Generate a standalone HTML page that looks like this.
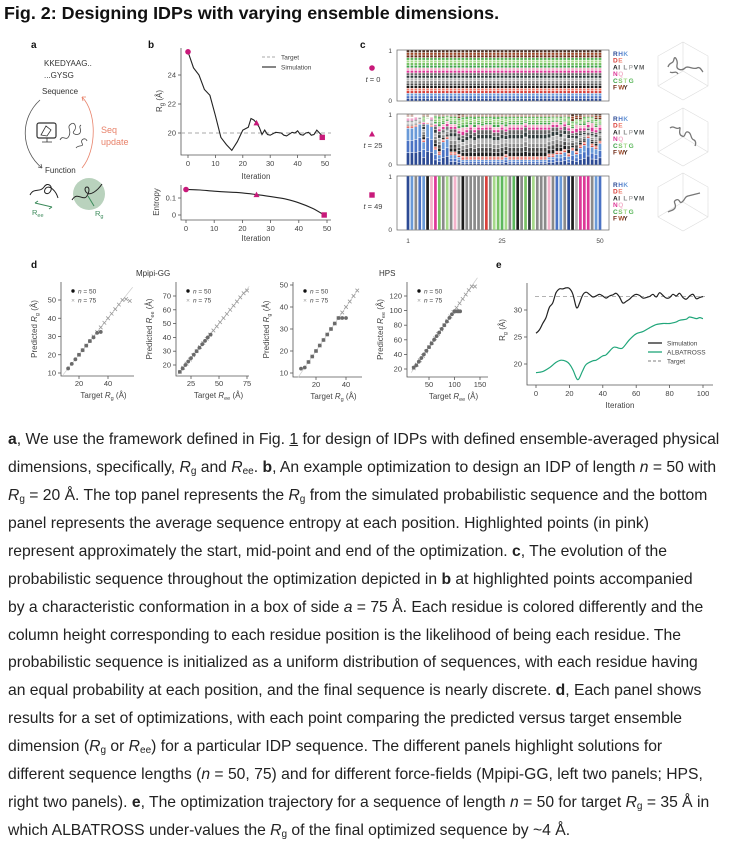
<!DOCTYPE html>
<html><head><meta charset="utf-8"><style>
body{margin:0;background:#fff;width:736px;height:849px;overflow:hidden;position:relative;font-family:"Liberation Sans",sans-serif;}
#title{position:absolute;left:4px;top:3px;font-weight:bold;font-size:17.9px;color:#111;white-space:nowrap;}
#fig{position:absolute;left:0;top:0;}
.cap{position:absolute;left:8px;font-size:15.7px;color:#222;white-space:nowrap;line-height:18px;}
.cap i{font-style:italic}
sub{font-size:10px;vertical-align:-2px;line-height:0}
svg text{font-family:"Liberation Sans",sans-serif;}
</style></head><body>
<div id="title">Fig. 2: Designing IDPs with varying ensemble dimensions.</div>
<svg id="fig" width="736" height="420">
<g id="pa" fill="#333" font-size="8">
<text x="31" y="48" font-weight="bold" font-size="10" fill="#111">a</text>
<text x="44" y="66" fill="#333">KKEDYAAG..</text>
<text x="44" y="78" fill="#333">...GYSG</text>
<text x="42" y="94" fill="#333">Sequence</text>
<text x="45" y="173" fill="#333">Function</text>
<path d="M40,100 C20,118 20,150 42,168" stroke="#555" fill="none" stroke-width="0.8"/>
<path d="M42,168 l-4,-1 M42,168 l-1,-4" stroke="#555" stroke-width="0.8"/>
<path d="M82,168 C97,150 97,112 82,97" stroke="#e8826a" fill="none" stroke-width="0.8"/>
<path d="M82,97 l4,0 M82,97 l1,4" stroke="#e8826a" stroke-width="0.8"/>
<text x="101" y="133" fill="#e8826a" font-size="9">Seq</text>
<text x="101" y="145" fill="#e8826a" font-size="9">update</text>
<rect x="37" y="123" width="19" height="15" rx="2" fill="none" stroke="#333" stroke-width="1.2"/>
<path d="M42,142 h10 M47,138 v4 M41,135 l5,-9 l5,4 l-4,6z" stroke="#333" fill="none" stroke-width="0.8"/>
<path d="M60,140 c3,-6 6,2 9,-4 c3,-6 -3,-9 2,-12 c4,-3 6,4 3,7 c-3,3 4,5 6,2 c2,-4 -2,-6 1,-8 M76,148 c3,-4 8,0 6,-5 c-2,-4 4,-6 5,-2" stroke="#444" fill="none" stroke-width="0.8"/>
<path d="M30,195 c4,-8 10,-2 14,-8 c4,-6 10,0 6,5 c-3,4 -8,0 -4,-4 c4,-3 10,3 12,10" stroke="#222" fill="none" stroke-width="1"/>
<path d="M35,203 l17,4 M35,203 l3,-2 M52,207 l-3,2" stroke="#3b8a5a" stroke-width="1" fill="none"/>
<text x="32" y="215" fill="#3b8a5a" font-size="7.5">R<tspan font-size="5.5" dy="2">ee</tspan></text>
<circle cx="89" cy="194" r="16" fill="#b9d2bd"/>
<path d="M72,200 c6,-10 12,4 16,-6 c4,-10 -6,-8 -2,-2 c4,5 12,-2 16,-8" stroke="#222" fill="none" stroke-width="1"/>
<path d="M88,196 l6,10" stroke="#3b8a5a" stroke-width="1"/>
<text x="95" y="216" fill="#3b8a5a" font-size="7.5">R<tspan font-size="5.5" dy="2">g</tspan></text>
</g>
<g id="pb" font-size="7.5" fill="#444">
<text x="148" y="48" font-weight="bold" font-size="10" fill="#111">b</text>
</g>
<g id="pc" font-size="7.5" fill="#444">
<text x="360" y="48" font-weight="bold" font-size="10" fill="#111">c</text>
</g>
<g id="pd" font-size="7.5" fill="#444">
<text x="31" y="268" font-weight="bold" font-size="10" fill="#111">d</text>
<text x="136" y="276" font-size="8" fill="#333">Mpipi-GG</text>
<text x="379" y="276" font-size="8" fill="#333">HPS</text>
</g>
<g id="pe" font-size="7.5" fill="#444">
<text x="496" y="268" font-weight="bold" font-size="10" fill="#111">e</text>
</g>
</svg>
<div class="cap" style="top:431px"><b>a</b>, We use the framework defined in Fig. <span style="text-decoration:underline">1</span> for design of IDPs with defined ensemble-averaged physical</div>
<div class="cap" style="top:459px">dimensions, specifically, <i>R</i><sub>g</sub> and <i>R</i><sub>ee</sub>. <b>b</b>, An example optimization to design an IDP of length <i>n</i> = 50 with</div>
<div class="cap" style="top:487px"><i>R</i><sub>g</sub> = 20 Å. The top panel represents the <i>R</i><sub>g</sub> from the simulated probabilistic sequence and the bottom</div>
<div class="cap" style="top:515px">panel represents the average sequence entropy at each position. Highlighted points (in pink)</div>
<div class="cap" style="top:543px">represent approximately the start, mid-point and end of the optimization. <b>c</b>, The evolution of the</div>
<div class="cap" style="top:571px">probabilistic sequence throughout the optimization depicted in <b>b</b> at highlighted points accompanied</div>
<div class="cap" style="top:599px">by a characteristic conformation in a box of side <i>a</i> = 75 Å. Each residue is colored differently and the</div>
<div class="cap" style="top:627px">column height corresponding to each residue position is the likelihood of being each residue. The</div>
<div class="cap" style="top:654px">probabilistic sequence is initialized as a uniform distribution of sequences, with each residue having</div>
<div class="cap" style="top:682px">an equal probability at each position, and the final sequence is nearly discrete. <b>d</b>, Each panel shows</div>
<div class="cap" style="top:710px">results for a set of optimizations, with each point comparing the predicted versus target ensemble</div>
<div class="cap" style="top:738px">dimension (<i>R</i><sub>g</sub> or <i>R</i><sub>ee</sub>) for a particular IDP sequence. The different panels highlight solutions for</div>
<div class="cap" style="top:766px">different sequence lengths (<i>n</i> = 50, 75) and for different force-fields (Mpipi-GG, left two panels; HPS,</div>
<div class="cap" style="top:794px">right two panels). <b>e</b>, The optimization trajectory for a sequence of length <i>n</i> = 50 for target <i>R</i><sub>g</sub> = 35 Å in</div>
<div class="cap" style="top:822px">which ALBATROSS under-values the <i>R</i><sub>g</sub> of the final optimized sequence by ~4 Å.</div>
<script>
// ---- panel b data ----
const bIter=[0,2,4,6,8,10,12,14,16,18,20,22,23,24,25,26,27,28,29,30,32,34,35,36,38,39,40,41,42,43,44,45,46,47,48,49];
const bRg=[25.6,24.5,24.0,23.0,22.6,21.2,19.7,19.2,18.8,19.4,20.2,20.4,21.0,20.9,20.7,20.4,19.9,20.2,19.9,19.85,20.05,20.0,19.85,19.8,20.05,20.0,20.15,19.9,19.85,20.0,20.05,19.85,19.9,20.2,20.0,19.8];
const bTarget=20;
const bXTicks=[0,10,20,30,40,50];
const bYTicks=[20,22,24];
const entIter=[0,5,10,15,20,25,30,35,40,45,49];
const entVal=[0.15,0.147,0.14,0.135,0.13,0.12,0.108,0.095,0.072,0.038,0.0];
const entYTicks=[0,0.1];
const hlIter=[0,25,49];
const hlRg=[25.6,20.7,19.7];
const hlEnt=[0.15,0.12,0.0];
// ---- panel c data ----
const residues=["R","H","K","D","E","A","I","L","P","V","M","N","Q","C","S","T","G","F","W","Y"];
const resColor=["#2c4a94","#4a72c4","#6a9ad8","#d9413c","#ee7d6c","#1c1c1c","#4d4d4d","#8a8a8a","#b0b0b0","#2f3b3b","#666","#dd3797","#f4b3cb","#3fa24a","#79c265","#a6d98a","#5cb85c","#6e2a17","#9e4a2a","#4c2f22"];
const groupIdx=[[0,1,2],[3,4],[5,6,7,8,9,10],[11,12],[13,14,15,16],[17,18,19]];
const t25Blue=[.72,.72,.75,.8,.45,.8,.75,.3,.2,.45,.5,.2,.2,.15,.1,.1,.1,.1,.1,.1,.1,.1,.1,.1,.1,.15,.1,.1,.1,.1,.1,.1,.1,.1,.1,.1,.15,.15,.2,.2,.25,.15,.3,.2,.3,.35,.5,.3,.3,.4];
const t25Red=[.05,.05,.04,.03,.05,.03,.04,.06,.07,.05,.05,.06,.06,.06,.07,.06,.06,.06,.06,.06,.06,.06,.06,.06,.06,.06,.06,.06,.06,.06,.06,.06,.06,.06,.06,.06,.06,.06,.06,.06,.06,.06,.06,.06,.06,.06,.05,.06,.06,.05];
const t25Grey=[.1,.1,.1,.1,.3,.05,.1,.4,.4,.2,.2,.45,.45,.4,.4,.45,.5,.45,.5,.5,.5,.5,.45,.45,.5,.45,.5,.5,.5,.5,.55,.5,.5,.5,.5,.5,.45,.5,.45,.4,.45,.4,.3,.35,.25,.2,.15,.2,.25,.2];
const t25Pink=[.05,.05,.05,.02,.05,.02,.05,.05,.1,.1,.1,.1,.1,.1,.15,.1,.1,.1,.1,.08,.1,.1,.1,.1,.1,.1,.1,.1,.1,.1,.08,.1,.1,.1,.1,.1,.1,.1,.1,.1,.1,.1,.1,.15,.1,.1,.1,.15,.1,.1];
const t25Green=[.03,.03,.03,.03,.1,.05,.03,.15,.2,.15,.1,.15,.15,.2,.2,.2,.15,.2,.15,.17,.15,.15,.2,.2,.15,.2,.15,.15,.15,.15,.12,.15,.15,.15,.15,.15,.15,.1,.1,.15,.1,.15,.15,.1,.1,.15,.1,.1,.15,.1];
const t25Brown=[.05,.05,.03,.02,.05,.05,.03,.04,.05,.05,.04,.05,.05,.08,.06,.05,.05,.05,.05,.05,.05,.05,.05,.05,.05,.05,.05,.05,.05,.05,.05,.05,.05,.05,.05,.05,.05,.05,.05,.05,.05,.05,.15,.1,.1,.05,.05,.05,.1,.1];
const t49Seq="RKLHKAQNSLTLQPALLLLLDLTSGTLGALSVTLLLQLHKLRAPNNNLKH";
const cXTicks=[1,25,50];
// ---- panel d data ----
const d1Tx50=[12.5,15,17.5,20,22.5,25,27.5,30,32.5,35];
const d1Py50=[12.5,15,17.5,20,22.5,25,27.5,29.5,32,32.5];
const d1Tx75=[20,22.5,25,27.5,30,32.5,35,37.5,40,42.5,45,47.5,50,52.5,55];
const d1Py75=[20,22.5,25,27.5,30,32.5,35,37.5,40,42.5,45,47.5,50,50.5,49.5];
const d2Tx50=[15,17.5,20,22.5,25,27.5,30,32.5,35,37.5,40,42.5];
const d2Py50=[15,17.5,20,22.5,25,27.5,30,32.5,35,37.5,40,42];
const d2Tx75=[15,18,21,24,27,30,33,36,39,42,45,48,51,54,57,60,63,66,69,72,75];
const d2Py75=[15,18,21,24,27,30,33,36,39,42,45,48,51,54,57,60,63,66,69,72,74];
const d3Tx50=[10,12.5,15,17.5,20,22.5,25,27.5,30,32.5,35,37.5,40];
const d3Py50=[12,12.5,15,17.5,20,22.5,25,27.5,30,32.5,35,35,35];
const d3Tx75=[15,17.5,20,22.5,25,27.5,30,32.5,35,37.5,40,42.5,45,47.5];
const d3Py75=[15,17.5,20,22.5,25,27.5,30,32.5,35,37.5,40,42.5,45,47.5];
const d4Tx50=[20,25,30,35,40,45,50,55,60,65,70,75,80,85,90,95,100,105,108,111];
const d4Py50=[22,25,30,35,40,45,50,55,60,65,70,75,80,85,90,95,99,99,99,99];
const d4Tx75=[20,26,32,38,44,50,56,62,68,74,80,86,92,98,104,110,116,122,128,134,140];
const d4Py75=[21,26,32,38,44,50,56,62,68,74,80,86,92,98,104,110,116,122,128,133,133];
// ---- panel e data ----
const eIter=[0,2,4,6,8,10,12,14,16,18,20,22,24,25,26,28,30,32,34,36,38,40,42,44,46,48,50,52,54,56,58,60,62,64,66,68,70,72,74,76,78,80,82,84,86,88,90,92,94,96,98,100];
const eSim=[25.7,26.3,27.5,28.6,30.5,31.3,33.2,33.9,33.9,34.1,34.0,33.0,30.6,30.5,31.2,32.8,33.3,32.9,32.4,32.6,32.9,32.6,32.2,32.6,32.8,33.1,32.4,31.3,31.6,32.0,32.6,32.9,32.7,32.2,32.3,32.5,32.9,32.4,33.2,32.7,32.2,32.3,32.9,32.6,33.1,32.3,32.0,32.6,32.9,32.1,32.3,32.5];
const eAlbIter=[0,4,8,12,15,18,20,22,24,25,26,28,30,34,36,40,42,46,48,50,52,56,60,64,68,72,76,80,84,86,90,92,96,98,100];
const eAlb=[18.4,18.6,19.3,20.3,20.7,20.5,20.0,19.0,17.5,17.1,17.4,18.8,19.9,20.6,20.7,21.5,21.7,23.0,23.1,22.9,23.0,24.5,25.6,26.0,26.7,27.3,27.5,27.5,27.8,28.1,28.3,28.7,28.4,28.6,28.4];
const eTarget=32.5;
const eXTicks=[0,20,40,60,80,100];
const eYTicks=[20,25,30];

const NS="http://www.w3.org/2000/svg";
function mk(tag,attrs,parent){const e=document.createElementNS(NS,tag);for(const k in attrs)e.setAttribute(k,attrs[k]);parent.appendChild(e);return e;}
function txt(s,attrs,parent){const e=mk("text",attrs,parent);e.textContent=s;return e;}
function pathFrom(xs,ys,fx,fy){return xs.map((v,i)=>(i?"L":"M")+fx(v).toFixed(1)+","+fy(ys[i]).toFixed(1)).join(" ");}
function smoothPath(xs,ys,fx,fy){const p=xs.map((v,i)=>[fx(v),fy(ys[i])]);let d="M"+p[0][0]+","+p[0][1];for(let i=0;i<p.length-1;i++){const p0=p[Math.max(0,i-1)],p1=p[i],p2=p[i+1],p3=p[Math.min(p.length-1,i+2)];const c1x=p1[0]+(p2[0]-p0[0])/6,c1y=p1[1]+(p2[1]-p0[1])/6,c2x=p2[0]-(p3[0]-p1[0])/6,c2y=p2[1]-(p3[1]-p1[1])/6;d+=` C${c1x.toFixed(1)},${c1y.toFixed(1)} ${c2x.toFixed(1)},${c2y.toFixed(1)} ${p2[0].toFixed(1)},${p2[1].toFixed(1)}`;}return d;}
const MAG="#c8197a";
function marker(kind,x,y,g){let e;if(kind===0)e=mk("circle",{cx:x,cy:y,r:2.8,fill:MAG},g);else if(kind===1)e=mk("path",{d:`M${x},${y-3} L${x+3},${y+2.5} L${x-3},${y+2.5}Z`,fill:MAG},g);else e=mk("rect",{x:x-2.7,y:y-2.7,width:5.4,height:5.4,fill:MAG},g);return e;}

// ===== Panel b =====
(function(){
const g=document.getElementById("pb");
const bx=v=>188+v*2.74, by=v=>133-(v-20)*14.5;
let e=mk("path",{d:"M181,48 V155 H331",stroke:"#555",fill:"none","stroke-width":0.8},g);


bXTicks.forEach(t=>{mk("line",{x1:bx(t),x2:bx(t),y1:155,y2:158,stroke:"#555","stroke-width":0.8},g);const l=txt(String(t),{x:bx(t),y:166,"text-anchor":"middle"},g);

});
bYTicks.forEach(t=>{mk("line",{x1:178,x2:181,y1:by(t),y2:by(t),stroke:"#555","stroke-width":0.8},g);const l=txt(String(t),{x:176,y:by(t)+2.5,"text-anchor":"end"},g);

});
e=txt("Iteration",{x:256,y:179,"text-anchor":"middle","font-size":8},g);


e=txt("",{x:0,y:0,transform:"translate(162,101) rotate(-90)","text-anchor":"middle","font-size":8},g);
e.innerHTML='R<tspan font-size="6" dy="2">g</tspan><tspan dy="-2"> (Å)</tspan>';


e=mk("line",{x1:181,x2:331,y1:by(bTarget),y2:by(bTarget),stroke:"#aaa","stroke-dasharray":"4,3","stroke-width":0.9},g);


e=mk("path",{d:pathFrom(bIter,bRg,bx,by),stroke:"#222",fill:"none","stroke-width":1.1},g);


hlIter.forEach((it,i)=>{const m=marker(i,bx(it),by(hlRg[i]),g);

});
e=mk("line",{x1:262,x2:276,y1:57,y2:57,stroke:"#aaa","stroke-dasharray":"3,2"},g);


e=txt("Target",{x:281,y:59.5,"font-size":6.5},g);


e=mk("line",{x1:262,x2:276,y1:67,y2:67,stroke:"#222","stroke-width":1.1},g);


e=txt("Simulation",{x:281,y:69.5,"font-size":6.5},g);


// entropy
const ex=v=>186+v*2.82, ey=v=>215-v*170;
e=mk("path",{d:"M181,185 V220 H331",stroke:"#555",fill:"none","stroke-width":0.8},g);


bXTicks.forEach(t=>{mk("line",{x1:ex(t),x2:ex(t),y1:220,y2:223,stroke:"#555","stroke-width":0.8},g);const l=txt(String(t),{x:ex(t),y:231,"text-anchor":"middle"},g);

});
entYTicks.forEach(t=>{mk("line",{x1:178,x2:181,y1:ey(t),y2:ey(t),stroke:"#555","stroke-width":0.8},g);const l=txt(String(t),{x:176,y:ey(t)+2.5,"text-anchor":"end"},g);

});
e=txt("Iteration",{x:256,y:241,"text-anchor":"middle","font-size":8},g);


e=txt("Entropy",{transform:"translate(159,202) rotate(-90)","text-anchor":"middle","font-size":8},g);


e=mk("path",{d:smoothPath(entIter,entVal,ex,ey),stroke:"#222",fill:"none","stroke-width":1.1},g);


hlIter.forEach((it,i)=>{const m=marker(i,ex(it),ey(hlEnt[i]),g);

});
})();

// ===== Panel c =====
(function(){
const g=document.getElementById("pc");
const panels=[{top:50,bot:101},{top:114,bot:165},{top:176,bot:230}];
const cx=i=>408+(i-1)*3.918;
const bw=2.7;
panels.forEach((p,pi)=>{
  const h=p.bot-p.top;
  let e=mk("rect",{x:397,y:p.top,width:212,height:h,fill:"none",stroke:"#666","stroke-width":0.7},g);
  
  
  e=txt("1",{x:392,y:p.top+3,"text-anchor":"end","font-size":6.5},g);
  
  
  e=txt("0",{x:392,y:p.bot+2,"text-anchor":"end","font-size":6.5},g);
  
  
  for(let i=1;i<=50;i++){
    let segs=[];
    if(pi===0){residues.forEach((r,ri)=>segs.push([ri,1/20]));}
    else if(pi===1){const gv=[t25Blue,t25Red,t25Grey,t25Pink,t25Green,t25Brown].map(a=>a[i-1]);const s=gv.reduce((a,b)=>a+b,0);
      gv.forEach((v,gi)=>{const idx=groupIdx[gi];idx.forEach((ri,k)=>segs.push([ri,v/s/idx.length]));});}
    else {const ri=residues.indexOf(t49Seq[i-1]);segs.push([ri,1]);}
    let y=p.bot;
    segs.forEach(([ri,f])=>{const hh=f*h;y-=hh;
      const r=mk("rect",{x:cx(i)-bw/2,y:y+0.25,width:bw,height:Math.max(0,hh-0.5),fill:resColor[ri]},g);
      
      });
  }
  const rows=[["R","H","K"],["D","E"],["A","I","L","P","V","M"],["N","Q"],["C","S","T","G"],["F","W","Y"]];
  const ly0=[56,121,187][pi];
  rows.forEach((row,ri)=>{row.forEach((r,k)=>{const t=txt(r,{x:613+k*5.2,y:ly0+ri*6.7,"font-size":6.5,"font-weight":"bold","font-family":"Liberation Mono, monospace",fill:resColor[residues.indexOf(r)]},g);
    
    });});
  const cy=[71,137,202][pi], cxx=683;
  e=mk("path",{d:`M${cxx},${cy-29} L${cxx+25},${cy-15} L${cxx+25},${cy+15} L${cxx},${cy+29} L${cxx-25},${cy+15} L${cxx-25},${cy-15}Z M${cxx},${cy} L${cxx},${cy-29} M${cxx},${cy} L${cxx-25},${cy+15} M${cxx},${cy} L${cxx+25},${cy+15}`,fill:"none",stroke:"#ddd","stroke-width":0.6},g);
  
  
  const sq=["M668,67 c2,-6 5,-2 6,-8 c1,-4 4,2 3,6 c-1,5 5,6 8,3 c3,-3 8,2 12,0 c3,-2 5,3 6,4 M670,72 c3,2 6,-2 8,2","M670,128 c4,-3 6,2 9,0 c3,-2 -2,6 3,8 c4,2 2,-5 6,-4 c4,1 2,7 6,8 c2,1 2,4 1,6","M668,212 c3,-2 5,-1 7,-4 c2,-4 -3,-6 1,-8 c4,-2 3,4 6,2 c4,-3 2,-5 6,-6 c4,-1 8,-2 12,-3"];
  e=mk("path",{d:sq[pi],fill:"none",stroke:"#777","stroke-width":1.3},g);
  
  
  const my=[68,134,195][pi];
  e=marker(pi,372,my,g);
  
  
  e=txt("",{x:373,y:my+14,"text-anchor":"middle","font-size":7.5},g);
  e.innerHTML='<tspan font-style="italic">t</tspan> = '+["0","25","49"][pi];
  
  
});
cXTicks.forEach(t=>{const e=txt(String(t),{x:cx(t),y:243,"text-anchor":"middle","font-size":6.5},g);

});
})();

// ===== Panel d =====
(function(){
const g=document.getElementById("pd");
const plots=[
 {L:61,R:134,T:282,B:376,x0:20,xs:1.45,xp:79,y0:10,ys:1.825,yp:373,xt:[20,40],yt:[10,20,30,40,50],tx50:d1Tx50,py50:d1Py50,tx75:d1Tx75,py75:d1Py75,lab:"g",dmin:9,dmax:57},
 {L:176,R:249,T:282,B:376,x0:25,xs:1.12,xp:191,y0:20,ys:1.38,yp:365,xt:[25,50,75],yt:[20,30,40,50,60,70],tx50:d2Tx50,py50:d2Py50,tx75:d2Tx75,py75:d2Py75,lab:"ee",dmin:13,dmax:77},
 {L:293,R:362,T:282,B:377,x0:20,xs:1.5,xp:316,y0:10,ys:2.2,yp:373,xt:[20,40],yt:[10,20,30,40,50],tx50:d3Tx50,py50:d3Py50,tx75:d3Tx75,py75:d3Py75,lab:"g",dmin:8,dmax:48},
 {L:407,R:488,T:282,B:377,x0:50,xs:0.51,xp:429,y0:20,ys:0.73,yp:369,xt:[50,100,150],yt:[20,40,60,80,100,120],tx50:d4Tx50,py50:d4Py50,tx75:d4Tx75,py75:d4Py75,lab:"ee",dmin:15,dmax:145}];
plots.forEach((p,pi)=>{
 const fx=v=>p.xp+(v-p.x0)*p.xs, fy=v=>p.yp-(v-p.y0)*p.ys;
 let e=mk("path",{d:`M${p.L},${p.T} V${p.B} H${p.R}`,stroke:"#555",fill:"none","stroke-width":0.8},g);
 
 
 p.xt.forEach(t=>{mk("line",{x1:fx(t),x2:fx(t),y1:p.B,y2:p.B+3,stroke:"#555","stroke-width":0.8},g);const l=txt(String(t),{x:fx(t),y:p.B+10,"text-anchor":"middle"},g);
 
 });
 p.yt.forEach(t=>{mk("line",{x1:p.L-3,x2:p.L,y1:fy(t),y2:fy(t),stroke:"#555","stroke-width":0.8},g);const l=txt(String(t),{x:p.L-5,y:fy(t)+2.5,"text-anchor":"end"},g);
 
 });
 e=mk("line",{x1:fx(p.dmin),y1:fy(p.dmin),x2:fx(p.dmax),y2:fy(p.dmax),stroke:"#ccc","stroke-width":0.7},g);
 
 
 p.tx75.forEach((v,i)=>{const x=fx(v),y=fy(p.py75[i]);const c=mk("path",{d:`M${x-1.8},${y-1.8}L${x+1.8},${y+1.8}M${x-1.8},${y+1.8}L${x+1.8},${y-1.8}`,stroke:"#999","stroke-width":0.8},g);
 
 });
 p.tx50.forEach((v,i)=>{const c=mk("circle",{cx:fx(v),cy:fy(p.py50[i]),r:1.9,fill:"#6a6a6a"},g);
 
 });
 const midx=(p.L+p.R)/2+6;
 e=txt("",{x:midx,y:p.B+22,"text-anchor":"middle","font-size":8},g);
 e.innerHTML='Target <tspan font-style="italic">R</tspan><tspan font-size="5.5" dy="2">'+p.lab+'</tspan><tspan dy="-2"> (Å)</tspan>';
 
 
 e=txt("",{transform:`translate(${p.L-24},${(p.T+p.B)/2}) rotate(-90)`,"text-anchor":"middle","font-size":8},g);
 e.innerHTML='Predicted <tspan font-style="italic">R</tspan><tspan font-size="5.5" dy="2">'+p.lab+'</tspan><tspan dy="-2"> (Å)</tspan>';
 
 
 e=mk("circle",{cx:p.L+12,cy:291,r:1.7,fill:"#111"},g);
 
 
 e=txt("",{x:p.L+17,y:293.5,"font-size":6.5},g);
 e.innerHTML='<tspan font-style="italic">n</tspan> = 50';
 
 
 e=txt("×",{x:p.L+12,y:302.5,"font-size":6.5,"text-anchor":"middle",fill:"#999"},g);
 
 
 e=txt("",{x:p.L+17,y:302.5,"font-size":6.5},g);
 e.innerHTML='<tspan font-style="italic">n</tspan> = 75';
 
 
});
})();

// ===== Panel e =====
(function(){
const g=document.getElementById("pe");
const fx=v=>536+v*1.67, fy=v=>310-(v-30)*5.4;
let e=mk("path",{d:"M527,283 V385 H713",stroke:"#555",fill:"none","stroke-width":0.8},g);


eXTicks.forEach(t=>{mk("line",{x1:fx(t),x2:fx(t),y1:385,y2:388,stroke:"#555","stroke-width":0.8},g);const l=txt(String(t),{x:fx(t),y:396,"text-anchor":"middle"},g);

});
eYTicks.forEach(t=>{mk("line",{x1:524,x2:527,y1:fy(t),y2:fy(t),stroke:"#555","stroke-width":0.8},g);const l=txt(String(t),{x:522,y:fy(t)+2.5,"text-anchor":"end"},g);

});
e=txt("Iteration",{x:620,y:408,"text-anchor":"middle","font-size":8},g);


e=txt("",{transform:"translate(505,330) rotate(-90)","text-anchor":"middle","font-size":8},g);
e.innerHTML='R<tspan font-size="5.5" dy="2">g</tspan><tspan dy="-2"> (Å)</tspan>';


e=mk("line",{x1:535,x2:705,y1:fy(eTarget),y2:fy(eTarget),stroke:"#999","stroke-dasharray":"4,3","stroke-width":0.8},g);


e=mk("path",{d:smoothPath(eIter,eSim,fx,fy),stroke:"#222",fill:"none","stroke-width":1.2},g);


e=mk("path",{d:smoothPath(eAlbIter,eAlb,fx,fy),stroke:"#20a67a",fill:"none","stroke-width":1.2},g);


const leg=[["Simulation","#222",""],["ALBATROSS","#20a67a",""],["Target","#999","3,2"]];
leg.forEach((l,i)=>{const y=343+i*9;
 const s=mk("line",{x1:648,x2:662,y1:y,y2:y,stroke:l[1],"stroke-width":1.3,"stroke-dasharray":l[2]||"none"},g);
 
 
 const t=txt(l[0],{x:667,y:y+2.5,"font-size":6.5},g);
 
 });
})();
</script>
</body></html>
